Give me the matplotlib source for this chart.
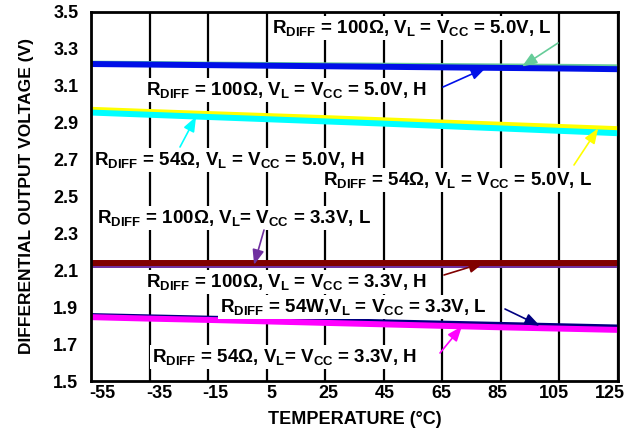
import numpy as np
import matplotlib
matplotlib.use("Agg")
import matplotlib.pyplot as plt

plt.rcParams['font.family'] = ['Liberation Sans', 'DejaVu Sans']
plt.rcParams['font.weight'] = 'bold'
plt.rcParams['mathtext.fontset'] = 'custom'
plt.rcParams['mathtext.rm'] = 'Liberation Sans:bold'
plt.rcParams['mathtext.bf'] = 'Liberation Sans:bold'
plt.rcParams['mathtext.it'] = 'Liberation Sans:bold'

temps = [-55, -35, -15, 5, 25, 45, 65, 85, 105, 125]
v100_50_L = [3.22, 3.218, 3.215, 3.213, 3.211, 3.209, 3.207, 3.205, 3.203, 3.20]
v100_50_H = [3.218, 3.215, 3.212, 3.209, 3.206, 3.203, 3.200, 3.197, 3.194, 3.19]
v54_50_L = [2.97, 2.958, 2.947, 2.936, 2.925, 2.913, 2.901, 2.889, 2.877, 2.865]
v54_50_H = [2.955, 2.943, 2.931, 2.919, 2.907, 2.895, 2.882, 2.869, 2.856, 2.843]
v100_33_L = [2.13, 2.13, 2.13, 2.13, 2.13, 2.13, 2.13, 2.13, 2.13, 2.13]
v100_33_H = [2.141, 2.141, 2.141, 2.141, 2.141, 2.141, 2.141, 2.141, 2.141, 2.141]
v54_33_L = [1.852, 1.845, 1.838, 1.832, 1.825, 1.818, 1.811, 1.804, 1.797, 1.79]
v54_33_H = [1.846, 1.838, 1.831, 1.823, 1.815, 1.807, 1.799, 1.791, 1.784, 1.777]

xticks = [-55, -35, -15, 5, 25, 45, 65, 85, 105, 125]
yticks = [1.5, 1.7, 1.9, 2.1, 2.3, 2.5, 2.7, 2.9, 3.1, 3.3, 3.5]

fig = plt.figure(figsize=(6.36, 4.29), dpi=100)
ax = fig.add_axes([91/636, 48/429, 527/636, 369/429])

ax.plot(temps, v100_50_L, color='#66cc99', lw=4.3, solid_capstyle='butt', zorder=3)
ax.plot(temps, v100_50_H, color='#0010e8', lw=4.3, solid_capstyle='butt', zorder=4)
ax.plot(temps, v54_50_L, color='#ffff00', lw=4.3, solid_capstyle='butt', zorder=3)
ax.plot(temps, v54_50_H, color='#00ffff', lw=4.3, solid_capstyle='butt', zorder=4)
ax.plot(temps, v100_33_L, color='#7030a0', lw=4.3, solid_capstyle='butt', zorder=3)
ax.plot(temps, v100_33_H, color='#800000', lw=4.3, solid_capstyle='butt', zorder=4)
ax.plot(temps, v54_33_L, color='#000080', lw=4.3, solid_capstyle='butt', zorder=3)
ax.plot(temps, v54_33_H, color='#ff00ff', lw=4.3, solid_capstyle='butt', zorder=4)

ax.set_xlim(-55, 125)
ax.set_ylim(1.5, 3.5)
# gridlines on minor ticks at the exact values; labels slightly inset as in the reference
ax.set_xticks(xticks, minor=True)
ax.set_yticks(yticks, minor=True)
label_pos = np.linspace(xticks[0] + 4.0, xticks[-1] - 2.7, len(xticks))
ax.set_xticks(label_pos)
ax.set_xticklabels([str(t) for t in xticks], fontsize=13, fontweight='bold')
ax.set_yticks(yticks)
ax.set_yticklabels([f"{t:.1f}" for t in yticks], fontsize=13, fontweight='bold')
ax.tick_params(which='both', length=0)
ax.tick_params(axis='x', pad=3)
ax.tick_params(axis='y', pad=9)
ax.grid(True, which='minor', color='black', lw=1.6, zorder=1)
ax.grid(False, which='major')
for s in ax.spines.values():
    s.set_linewidth(2)
    s.set_zorder(6)
ax.set_xlabel('TEMPERATURE (°C)', fontsize=13, fontweight='bold', labelpad=6)
ax.set_ylabel('DIFFERENTIAL OUTPUT VOLTAGE (V)', fontsize=12.5, fontweight='bold', labelpad=14)

def px2data(px, py):
    x = -55 + (px - 91) / (527 / 9) * 20
    y = 3.5 - (py - 12) * 0.2 / (369 / 10)
    return x, y

labels = [
    (r'R$_\mathrm{DIFF}$ = 100Ω, V$_\mathrm{L}$ = V$_\mathrm{CC}$ = 5.0V, L', 272, 28, (558, 43), 92.2, v100_50_L, '#66cc99'),
    (r'R$_\mathrm{DIFF}$ = 100Ω, V$_\mathrm{L}$ = V$_\mathrm{CC}$ = 5.0V, H', 146, 90, (443, 87), 79.9, v100_50_H, '#0010e8'),
    (r'R$_\mathrm{DIFF}$ = 54Ω, V$_\mathrm{L}$ = V$_\mathrm{CC}$ = 5.0V, H', 94, 160, (180, 147), -19.1, v54_50_H, '#00ffff'),
    (r'R$_\mathrm{DIFF}$ = 54Ω, V$_\mathrm{L}$ = V$_\mathrm{CC}$ = 5.0V, L', 323, 180, (574, 165), 118.2, v54_50_L, '#ffff00'),
    (r'R$_\mathrm{DIFF}$ = 100Ω, V$_\mathrm{L}$= V$_\mathrm{CC}$ = 3.3V, L', 97, 218, (264, 230), 0.7, v100_33_L, '#7030a0'),
    (r'R$_\mathrm{DIFF}$ = 100Ω, V$_\mathrm{L}$ = V$_\mathrm{CC}$ = 3.3V, H', 146, 282, (444, 275), 79.2, v100_33_H, '#800000'),
    (r'R$_\mathrm{DIFF}$ = 54W,V$_\mathrm{L}$ = V$_\mathrm{CC}$ = 3.3V, L', 220, 307, (505, 309), 98.3, v54_33_L, '#000080'),
    (r'R$_\mathrm{DIFF}$ = 54Ω, V$_\mathrm{L}$= V$_\mathrm{CC}$ = 3.3V, H', 152, 357, (440, 353), 71.7, v54_33_H, '#ff00ff'),
]

for txt, lx, ly, start, tipx, series, col in labels:
    tx, ty = px2data(lx, ly)
    ax.text(tx, ty, txt, fontsize=13.5, fontweight='bold', ha='left', va='center',
            zorder=5, bbox=dict(facecolor='white', edgecolor='none', pad=1.5))
    sx, sy = px2data(*start)
    tipy = float(np.interp(tipx, temps, series))
    ax.annotate('', xy=(tipx, tipy), xytext=(sx, sy), zorder=7,
                arrowprops=dict(arrowstyle='-|>,head_length=0.9,head_width=0.35',
                                color=col, lw=1.2, shrinkA=0, shrinkB=0))

fig.savefig('out.png', dpi=100)
